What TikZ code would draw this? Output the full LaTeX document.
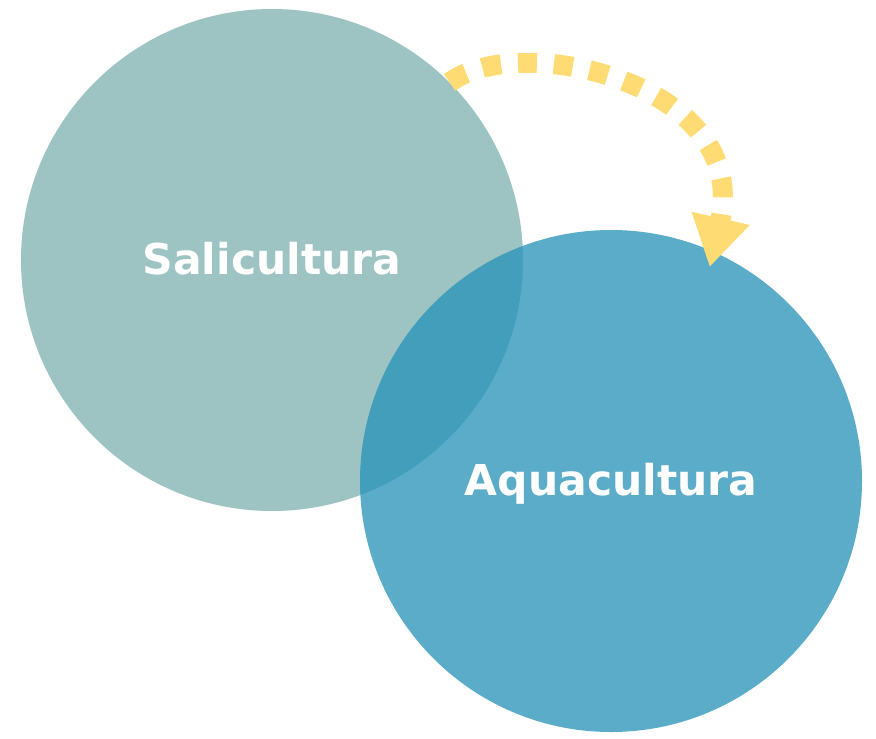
\documentclass[tikz,border=0pt]{standalone}
\usepackage{fontspec}
\setmainfont{DejaVu Sans}
\usetikzlibrary{arrows.meta}
\definecolor{salt}{RGB}{158,195,195}
\definecolor{aqua}{RGB}{40,147,185}
\definecolor{sun}{RGB}{255,219,115}

\begin{document}
\begin{tikzpicture}[
            x=1pt,y=1pt,
            field/.style={circle,minimum size=502pt,inner sep=0pt,
                font=\bfseries\fontsize{42.5}{48}\selectfont,text=white},
            flow/.style={sun,line width=20pt,dash pattern=on 19pt off 17pt,
                -{Triangle[width=56pt,length=50pt]}}
        ]
            \useasboundingbox (0,0) rectangle (876,-739);
            \node [field,fill=salt] (sal) at (272,-260) {};
            \node [field,fill=aqua,fill opacity=0.77] (aq) at (611,-481) {};
            \node [field] at ([yshift=1pt]sal) {Salicultura};
            \node [field] at ([yshift=-3pt]aq) {Aquacultura};
            \draw [flow,shorten >=-16pt] (sal.45)
                .. controls +(71,52) and +(38,168) .. (aq.66)
            ;
        \end{tikzpicture}
\end{document}
